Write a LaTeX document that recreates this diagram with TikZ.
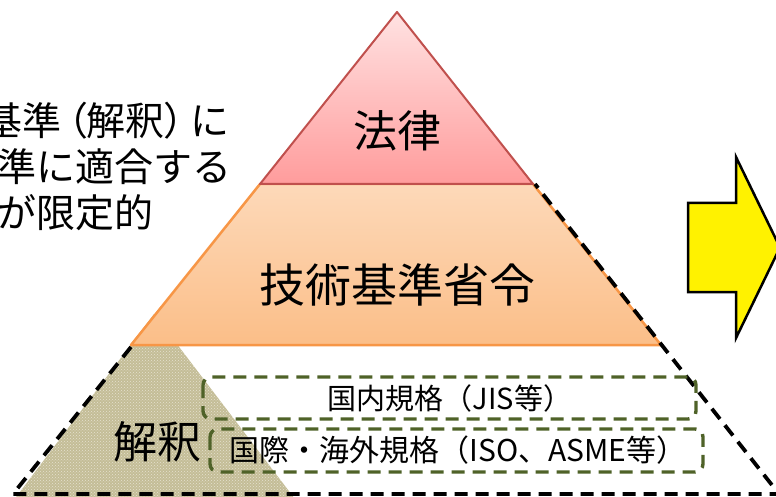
\documentclass[tikz,border=0pt]{standalone}
\usepackage{fontspec}
\setmainfont{Noto Sans CJK JP}
\usetikzlibrary{patterns}
\definecolor{lawborder}{HTML}{C0504D}
\definecolor{lawtop}{HTML}{FFE2E2}
\definecolor{lawbot}{HTML}{FF9C9C}
\definecolor{ordborder}{HTML}{F79646}
\definecolor{ordtop}{HTML}{FDD9B9}
\definecolor{ordbot}{HTML}{FBBE88}
\definecolor{interp}{HTML}{C4BD97}
\definecolor{interplight}{HTML}{E6E2D0}
\definecolor{olive}{HTML}{4F6228}
\newcommand\myparL{\kern6pt{\addfontfeature{RawFeature=+palt}（}}
\newcommand\myparR{{\addfontfeature{RawFeature=+palt}）}\kern6pt}
\tikzset{
  bigdash/.style={black, line width=3.8pt, dash pattern=on 13pt off 8pt},
  stdbox/.style={olive, line width=3.4pt, dash pattern=on 13pt off 8pt, rounded corners=8pt},
  lbl/.style={inner sep=0pt, text=black},
}
\begin{document}
\begin{tikzpicture}[x=1pt,y=-1pt]
\useasboundingbox (0,0) rectangle (776,497);
\clip (0,0) rectangle (776,497);
% interpretation area
\fill[interp] (154,314) -- (-20,545) -- (330,545) -- cycle;
\fill[pattern=crosshatch dots, pattern color=interplight] (154,314) -- (-20,545) -- (330,545) -- cycle;
% ordinance trapezoid
\shade[top color=ordtop, bottom color=ordbot] (260,184) -- (533,184) -- (661,345) -- (131,345) -- cycle;
\draw[ordborder, line width=2.5pt, line join=round] (260,184) -- (533,184) -- (661,345) -- (131,345) -- cycle;
% law triangle
\shade[top color=lawtop, bottom color=lawbot] (397,12) -- (533,184) -- (260,184) -- cycle;
\draw[lawborder, line width=2pt, line join=round] (397,12) -- (533,184) -- (260,184) -- cycle;
% dashed outline of the wide pyramid
\coordinate (dl0) at (131,347);
\coordinate (dl1) at (13,494);
\coordinate (dr0) at (535,184);
\coordinate (dr1) at (779,494);
\draw[bigdash] (dl0) -- (dl1) -- (dr1) -- (dr0);
% standards boxes
\draw[stdbox] (203,377) rectangle (696,419);
\draw[stdbox] (210,429) rectangle (703,472);
% arrow
\draw[black, line width=2.5pt, fill=yellow, line join=miter]
  (688,203) -- (736,203) -- (736,157) -- (780,247.5) -- (736,338) -- (736,292) -- (688,292) -- cycle;
% texts
\node[lbl, font=\fontsize{44pt}{50pt}\selectfont] (law) at (397,131) {法律};
\node[lbl, font=\fontsize{46pt}{52pt}\selectfont] (ord) at (397,285) {技術基準省令};
\node[lbl, font=\fontsize{44pt}{50pt}\selectfont] (interp) at (157,442) {解釈};
\node[lbl, font=\fontsize{29pt}{33pt}\selectfont] (jis) at (450,398) {国内規格（JIS等）};
\node[lbl, font=\fontsize{30pt}{34pt}\selectfont] (iso) at (458,450) {国際・海外規格（ISO、ASME等）};
\node[lbl, anchor=west, font=\fontsize{39pt}{44pt}\selectfont] (t1) at (-17,121) {基準\myparL 解釈\myparR に};
\node[lbl, anchor=west, font=\fontsize{39pt}{44pt}\selectfont] (t2) at (-3,167) {準に適合する};
\node[lbl, anchor=west, font=\fontsize{39pt}{44pt}\selectfont] (t3) at (-3,213) {が限定的};
\end{tikzpicture}
\end{document}
